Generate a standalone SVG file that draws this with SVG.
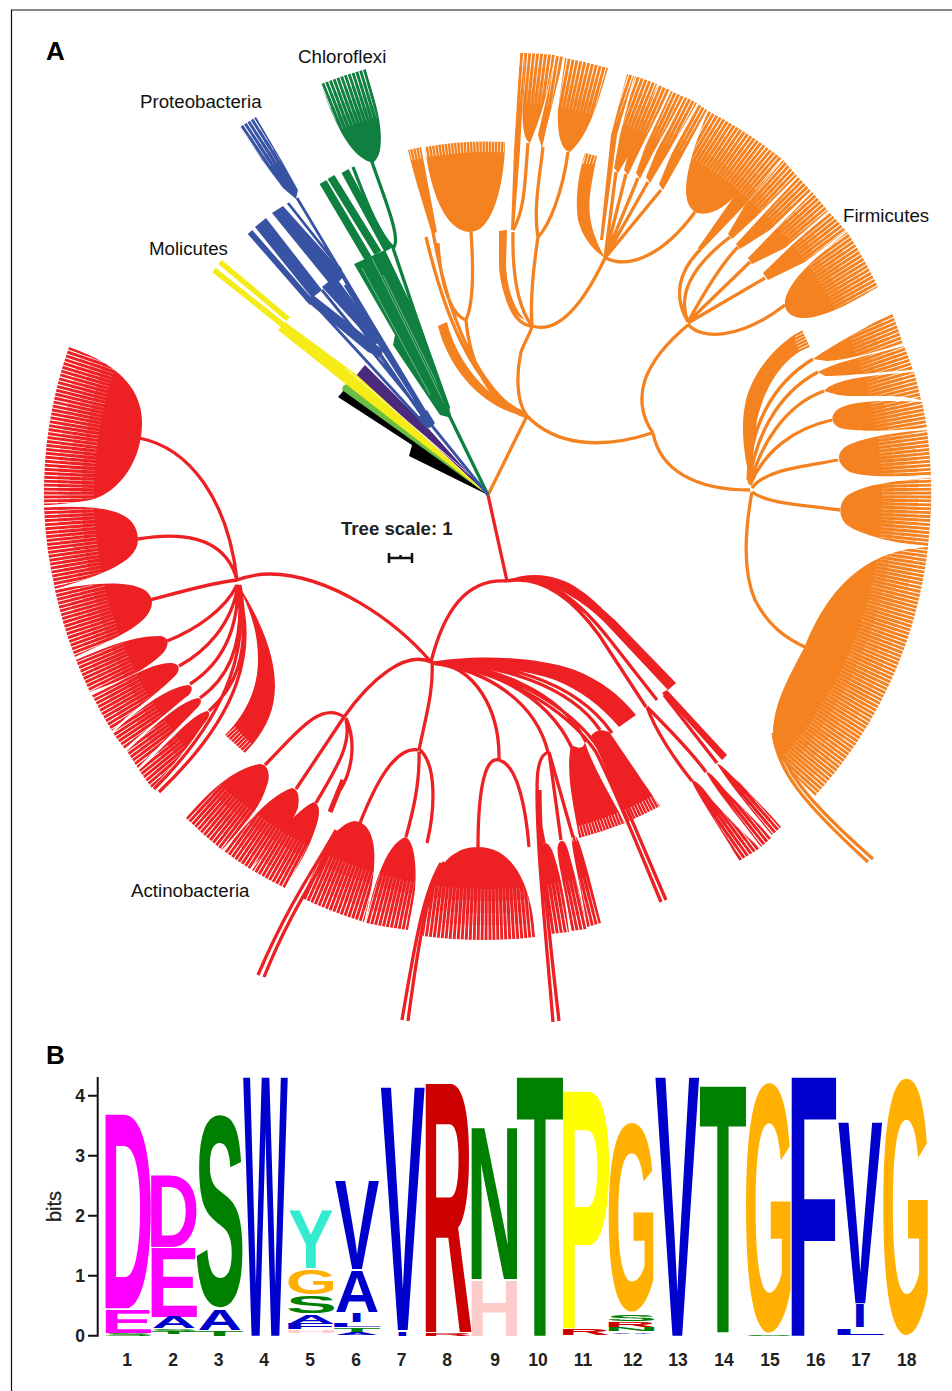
<svg xmlns="http://www.w3.org/2000/svg" width="952" height="1391" viewBox="0 0 952 1391">
<style>
.lbl{font-family:"Liberation Sans",Arial,sans-serif;font-size:18.700px;fill:#111}
.hd{font-family:"Liberation Sans",Arial,sans-serif;font-size:26px;font-weight:bold;fill:#000}
.ax{font-family:"Liberation Sans",Arial,sans-serif;font-size:17.500px;font-weight:bold;fill:#222}
.lg text{font-family:"Liberation Sans",Arial,sans-serif;font-size:100px;font-weight:bold}
.m{fill:#F0F}.g{fill:#008000}.b{fill:#00C}.o{fill:#FFB000}.c{fill:#CC0000}.p{fill:#FFCCCC}.y{fill:#FF0}.t{fill:#33EBCF}
.R{fill:#ED2024}.O{fill:#F58220}.Gr{fill:#0F8040}.B{fill:#3953A4}
.lR,.lO,.lG,.lB{fill:none;stroke-width:3.300}
.lR{stroke:#ED2024}.lO{stroke:#F58220}.lG{stroke:#0F8040}.lB{stroke:#3953A4;stroke-width:2.800}
.ring{fill:none;stroke:#fff}
</style>
<defs>
<clipPath id="short"><rect x="400" y="130" width="112" height="30"/><rect x="570" y="785" width="100" height="60"/><rect x="218" y="725" width="35" height="35"/><rect x="795" y="325" width="20" height="30"/><rect x="576" y="148" width="26" height="16"/></clipPath>
</defs>
<rect width="952" height="1391" fill="#fff"/>
<path d="M11.500,1391V10H952" fill="none" stroke="#111" stroke-width="1.200"/>

<g id="clade-other">
<path d="M338,397L345,389L488,495L409,456L412,445Z" fill="#000"/>
<path d="M343,386L350,382L488,495L342,390Z" fill="#6ABD45"/>
<path d="M354,378L365,365L428,428L488,495L425,436Z" fill="#4B2A7E"/>
</g>
<g id="clade-molicutes">
<path d="M278,330L285,322L357,375L488,495L347,385Z" fill="#F5EB17"/>
<path d="M214,270L283,325M220,262L288,319" fill="none" stroke="#F5EB17" stroke-width="5.500"/>
<path d="M345,368L470,475" fill="none" stroke="#fff" stroke-width=".8"/>
</g>
<g id="clade-proteobacteria" class="B">
<path d="M240,127L256,117L283,163L298,190L296,199L283,188L262,160Z"/>
<path d="M255,227L266,218L322,290L312,298Z"/>
<path d="M272,213L283,206L345,275L333,288Z"/>
<path d="M305,300L313,295L383,350L381,358L368,352Z"/>
<path d="M322,287L335,276L382,340L375,345Z"/>
<path d="M417,418L427,410L435,423L430,428Z"/>
<path d="M250,232L312,303" fill="none" stroke="#3953A4" stroke-width="6"/>
</g>
<g id="clade-chloroflexi" class="Gr">
<path d="M321,84A444,444 0 0 1 366,69C370,85 385,125 380,150C378,160 372,165 370,162C350,155 335,125 321,84Z"/>
<path d="M354,264L385,250L420,323L450,407L448,417L440,415L393,345L395,335Z"/>
<path d="M323,182L368,258M331,177L378,253M345,171L388,250" fill="none" stroke="#0F8040" stroke-width="8"/>
<path d="M445,405L372,258M445,400L383,275M430,395L362,268" fill="none" stroke="#fff" stroke-width=".7" opacity=".6"/>
</g>
<g id="clade-firmicutes-top" class="O">
<path d="M408,150L421,147L437,232L432,234C425,210 415,180 408,150Z"/>
<path d="M425,147A355,355 0 0 1 505,142C505,175 495,232 470,232C445,232 430,190 425,147Z"/>
<path d="M438,326L447,322C455,355 480,395 527,416C490,412 450,375 438,326Z"/>
<path d="M499,231L507,230L506,265C507,290 515,310 525,320C510,315 500,290 499,265Z"/>
<path d="M520,53L525,53L520,150L514,230L511,230L514,150Z"/>
<path d="M525,53A444,444 0 0 1 555,55C548,95 538,125 530,143C524,140 521,125 523,90Z"/>
<path d="M556,56L564,57L546,130L542,148L538,135Z"/>
<path d="M565,58A444,444 0 0 1 608,68C600,95 590,135 570,152C560,150 557,130 558,110Z"/>
<path d="M597,156L585,153C578,175 575,200 578,220C582,235 590,248 605,258C595,240 587,220 590,195C592,180 595,165 597,156Z"/>
<path d="M627,74A444,444 0 0 1 634,76L617,135L603,240L600,240L611,135Z"/>
<path d="M635,76A444,444 0 0 1 657,84L632,150L618,173L614,168L620,135Z"/>
<path d="M658,85A444,444 0 0 1 670,90L640,150L628,175L624,170L632,140Z"/>
<path d="M671,91A444,444 0 0 1 684,97L652,155L640,179L636,173L645,147Z"/>
<path d="M685,97A444,444 0 0 1 697,103L665,158L650,183L646,177L657,150Z"/>
<path d="M698,104A444,444 0 0 1 707,110L680,160L663,190L659,184L671,155Z"/>
<path d="M708,111A444,444 0 0 1 765,146C755,175 725,220 697,213C680,205 682,175 708,111Z"/>
<path d="M766,147A444,444 0 0 1 782,159L745,205L700,252L698,248L735,195Z"/>
<path d="M783,160A444,444 0 0 1 797,176L755,218L732,239L728,234L745,205Z"/>
<path d="M798,177A444,444 0 0 1 811,191L770,230L740,249L736,244L760,218Z"/>
<path d="M812,192A444,444 0 0 1 828,211L785,248L752,264L748,258L775,230Z"/>
<path d="M829,212A444,444 0 0 1 846,231L805,262L768,280L763,273L792,245Z"/>
<path d="M847,232A444,444 0 0 1 878,287C860,297 825,320 800,318C785,315 780,305 790,288C800,270 825,250 847,232Z"/>
</g>
<g id="clade-firmicutes-right" class="O">
<path d="M892,313A444,444 0 0 1 903,344C880,350 850,360 827,361L813,359C825,350 860,330 892,313Z"/>
<path d="M904,346A444,444 0 0 1 913,370C890,371 850,376 825,376L818,372C835,362 870,355 904,346Z"/>
<path d="M914,372A444,444 0 0 1 921,400C895,393 860,398 838,395L824,391C835,378 875,375 914,372Z"/>
<path d="M922,402A444,444 0 0 1 927,428C900,430 860,433 840,428C832,424 830,418 835,412C845,400 885,400 922,402Z"/>
<path d="M927,430A444,444 0 0 1 931,476C905,476 865,478 850,472C838,465 835,455 845,447C860,438 895,432 927,430Z"/>
<path d="M931,478A444,444 0 0 1 928,546C900,545 860,535 847,525C838,517 838,503 848,495C865,484 900,480 931,478Z"/>
<path d="M928,547A444,444 0 0 1 815,796C800,780 773,760 773,730C775,700 790,675 805,646C820,610 850,550 928,547Z"/>
<path d="M802,330L810,347C785,355 765,385 757,420C754,445 752,465 752,485C745,465 740,430 745,405C750,375 775,345 802,330Z"/>
</g>
<g id="clade-actinobacteria-left" class="R">
<path d="M44,505A444,444 0 0 1 69,347C100,358 143,378 142,425C141,465 115,497 85,501C70,503 55,505 44,505Z"/>
<path d="M55,589A444,444 0 0 1 44,507C90,506 138,505 138,540C138,565 90,578 55,589Z"/>
<path d="M75,657A444,444 0 0 1 55,590C85,584 150,575 152,602C152,625 110,640 75,657Z"/>
<path d="M90,692A444,444 0 0 1 76,660C100,650 130,636 160,636C172,637 168,650 160,656C135,678 112,683 90,692Z"/>
<path d="M112,731A444,444 0 0 1 92,695C120,683 150,663 170,663C182,663 180,672 174,677C150,700 130,712 112,731Z"/>
<path d="M125,749A444,444 0 0 1 113,733C135,712 165,688 188,685C195,686 191,695 186,697C165,715 145,730 125,749Z"/>
<path d="M138,768A444,444 0 0 1 127,751C150,730 178,702 198,698C204,699 200,706 195,710C178,728 155,750 138,768Z"/>
<path d="M152,788A444,444 0 0 1 139,770C160,752 190,715 207,711C212,712 208,720 203,725C190,745 170,770 152,788Z"/>
<path d="M237,583C255,610 275,650 275,685C275,715 262,735 245,753L225,735C245,715 258,690 258,660C258,630 250,610 237,583Z"/>
</g>
<g id="clade-actinobacteria-bottom" class="R">
<path d="M222,850A444,444 0 0 1 186,818C210,790 235,768 260,764C270,765 270,778 267,785C260,810 240,830 222,850Z"/>
<path d="M250,869A444,444 0 0 1 224,851C245,825 270,795 292,788C300,790 299,800 298,808C290,830 268,850 250,869Z"/>
<path d="M285,888A444,444 0 0 1 252,870C270,845 295,810 314,802C321,805 319,815 318,820C310,850 295,870 285,888Z"/>
<path d="M364,922A444,444 0 0 1 302,898C315,870 330,825 354,821C372,822 376,845 374,868C372,890 368,905 364,922Z"/>
<path d="M408,930A444,444 0 0 1 366,923C372,890 385,845 405,837C415,840 417,870 415,890C413,905 410,918 408,930Z"/>
<path d="M535,937A444,444 0 0 1 423,936C424,900 435,847 478,847C520,847 533,900 535,937Z"/>
<path d="M569,932A444,444 0 0 1 550,934C545,900 535,860 540,848C544,840 548,842 552,850C560,870 566,905 569,932Z"/>
<path d="M587,929A444,444 0 0 1 571,931C568,900 555,855 558,845C561,838 565,840 568,850C575,875 583,905 587,929Z"/>
<path d="M601,923A444,444 0 0 1 587,927C582,890 570,845 572,837C574,833 577,836 580,845C588,870 595,900 601,923Z"/>
<path d="M625,823A355,355 0 0 1 579,838C575,810 565,775 571,745C578,748 583,750 585,742C592,765 610,795 625,823Z"/>
<path d="M660,806A355,355 0 0 1 627,822C618,800 605,765 591,736C597,728 605,730 610,733C625,755 645,785 660,806Z"/>
<path d="M431,662C470,655 530,655 575,670C600,680 620,695 636,715L619,727C600,705 580,690 555,680C520,668 470,665 431,665Z"/>
<path d="M507,581C530,570 560,575 580,590C595,600 605,612 615,620L676,683L668,690L607,625C590,607 560,585 530,580Z"/>
<path d="M662,693L667,690L727,755L722,760Z"/>
<path d="M760,848A444,444 0 0 1 739,861C725,835 700,800 691,780C697,780 705,790 712,800C730,820 745,835 760,848Z"/>
<path d="M771,838A444,444 0 0 1 761,847C745,825 715,790 706,772C712,772 720,785 730,795C745,810 760,825 771,838Z"/>
<path d="M781,827A444,444 0 0 1 772,835C755,815 730,785 717,764C722,764 730,775 740,783C755,800 770,813 781,827Z"/>
</g>
<g id="tip-gaps">
<circle class="ring" cx="488" cy="495" r="438" pathLength="700" stroke-width="16" stroke-dasharray=".27 .73" stroke-dashoffset=".135"/>
<circle class="ring" cx="488" cy="495" r="424" pathLength="700" stroke-width="12" stroke-dasharray=".2 .8" stroke-dashoffset=".1"/>
<circle class="ring" cx="488" cy="495" r="412" pathLength="700" stroke-width="12" stroke-dasharray=".14 .86" stroke-dashoffset=".07"/>
<circle class="ring" cx="488" cy="495" r="400" pathLength="700" stroke-width="12" stroke-dasharray=".08 .92" stroke-dashoffset=".04" opacity=".8"/>
<circle class="ring" cx="488" cy="495" r="350" pathLength="700" stroke-width="14" stroke-dasharray=".22 .78" clip-path="url(#short)"/>
</g>
<g id="connectors">
<g class="lR">
<path d="M488,495L507,581M507,581C470,578 445,605 431,662M431,662C395,620 330,575 270,574C255,574 245,577 237,580C215,582 180,592 150,600"/>
<path d="M139,438C190,448 228,500 237,580M138,539C180,532 225,535 237,580M167,641C195,630 225,610 237,585M179,666C205,652 232,625 238,585M190,684C215,668 238,640 238,585M200,698C225,680 245,650 239,585M209,711C232,690 252,660 240,585M237,585C258,650 240,715 159,792M236,585C250,640 233,710 154,789"/>
<path d="M432,662C434,690 425,720 419,750M419,750C395,745 375,785 360,823M419,752C420,785 412,815 406,837M420,750C437,765 435,810 427,843"/>
<path d="M431,662C405,650 370,680 344,717M344,717C320,700 295,735 265,765M344,717L296,789M346,720C352,745 335,770 316,803M346,718C358,745 350,775 340,790"/>
<path d="M433,663C475,665 500,710 499,760M499,760C483,755 478,800 478,847M499,760C518,765 526,810 529,847"/>
<path d="M433,663C485,670 535,700 548,752M549,752C533,755 535,800 544,843M537,790C537,850 545,925 553,1022M540,790C540,850 548,925 559,1021M549,752L561,840M549,752L573,837"/>
<path d="M336,830C320,860 290,900 258,975M340,830C325,865 295,900 264,977M441,863C425,890 417,930 402,1020M444,862C428,890 420,930 408,1021"/>
<path d="M431,663C480,665 545,690 572,748M431,663C490,664 560,690 586,742M431,663C495,662 570,685 600,730M431,663C500,660 575,680 612,733M431,663C500,665 570,705 600,750C620,790 640,840 666,900M431,663C498,668 566,708 596,752C616,792 636,842 661,902"/>
<path d="M507,581C540,572 575,595 610,640L657,700M507,581C540,575 570,595 599,635L646,707M647,707C655,730 675,760 692,781M647,707C665,725 690,750 706,772M664,695L717,763"/>
<path d="M343,780L330,812" stroke-width="5"/>
</g>
<g class="lO">
<path d="M488,495L527,416M527,416C555,445 600,450 652,433M653,433C640,415 640,395 645,380C652,360 670,340 688,325M653,433C660,470 695,490 750,490M527,416C515,400 517,370 521,352C525,340 530,335 532,326"/>
<path d="M527,417C490,405 470,365 466,320M466,320C475,300 473,260 471,232M466,320C450,315 440,280 438,243M526,414C480,395 448,330 426,237M527,416C490,400 452,340 433,232"/>
<path d="M532,326C515,325 503,300 502,265M532,326C520,310 512,280 513,232M513,230C525,210 525,180 528,143M532,326C530,300 533,270 538,237M538,237C533,210 540,175 543,147M538,237C550,225 563,190 568,152M532,326C560,335 585,300 605,258"/>
<path d="M605,258L616,172M605,258L626,174M605,258L638,178M605,258L648,182M605,258L661,190M606,258C625,268 660,260 695,212"/>
<path d="M688,324C700,340 740,340 785,305M688,323L765,278M688,322L750,262M688,322C700,300 720,265 738,247M688,322C675,290 700,260 730,237M688,322C672,295 680,270 700,250"/>
<path d="M752,492C770,505 810,505 840,510M752,488C765,470 800,467 838,460M750,485C765,450 795,428 832,420M750,485C760,445 785,405 824,391M749,483C755,440 775,395 818,372M748,480C750,430 770,385 813,359"/>
<path d="M752,492C745,530 742,570 755,600C768,625 785,638 805,647"/>
<path d="M773,733C778,770 800,800 868,862M776,733C782,768 804,798 873,859"/>
</g>
<g class="lG">
<path d="M488,495L449,415M450,417L393,248M353,167C362,190 378,235 394,248M372,162C385,200 402,240 393,248"/>
</g>
<g class="lB">
<path d="M488,495L433,427M433,425L297,198M288,203L341,270M433,427L340,272M381,355L430,427M378,342L427,418M345,285L425,415M315,305L428,428M333,288L430,427M322,290L428,420"/>
</g>
</g>
<g id="labels">
<text class="lbl" x="298" y="63">Chloroflexi</text>
<text class="lbl" x="140" y="108">Proteobacteria</text>
<text class="lbl" x="149" y="255">Molicutes</text>
<text class="lbl" x="843" y="222">Firmicutes</text>
<text class="lbl" x="131" y="897">Actinobacteria</text>
<text class="hd" x="46" y="60">A</text>
<text class="hd" x="46" y="1064">B</text>
</g>
<g id="tree-scale">
<text x="341" y="535" font-family="'Liberation Sans',Arial,sans-serif" font-size="18.600" font-weight="bold" fill="#222">Tree scale: 1</text>
<path d="M389,558H412M389,553V563M412,553V563M400.500,555V558" fill="none" stroke="#111" stroke-width="2.500"/>
</g>
<g id="axis">
<path d="M97.700,1077V1336.700M88,1095.700H98M88,1155.700H98M88,1215.700H98M88,1275.700H98M88,1335.700H98" fill="none" stroke="#111" stroke-width="2"/>
<text class="ax" x="85" y="1102" text-anchor="end">4</text>
<text class="ax" x="85" y="1162" text-anchor="end">3</text>
<text class="ax" x="85" y="1222" text-anchor="end">2</text>
<text class="ax" x="85" y="1282" text-anchor="end">1</text>
<text class="ax" x="85" y="1342" text-anchor="end">0</text>
<text transform="translate(61 1222) rotate(-90)" font-family="'Liberation Sans',Arial,sans-serif" font-size="20" fill="#222" stroke="#222" stroke-width=".3">bits</text>
<g text-anchor="middle">
<text class="ax" x="127" y="1366">1</text><text class="ax" x="173" y="1366">2</text><text class="ax" x="218.500" y="1366">3</text><text class="ax" x="264" y="1366">4</text><text class="ax" x="310" y="1366">5</text><text class="ax" x="356" y="1366">6</text><text class="ax" x="401.500" y="1366">7</text><text class="ax" x="447" y="1366">8</text><text class="ax" x="495" y="1366">9</text><text class="ax" x="538" y="1366">10</text><text class="ax" x="583" y="1366">11</text><text class="ax" x="632.700" y="1366">12</text><text class="ax" x="678" y="1366">13</text><text class="ax" x="724" y="1366">14</text><text class="ax" x="770" y="1366">15</text><text class="ax" x="815.700" y="1366">16</text><text class="ax" x="861" y="1366">17</text><text class="ax" x="906.700" y="1366">18</text>
</g>
</g>
<g id="logo" class="lg">
<text class="m" transform="matrix(.737 0 0 2.814 100.600 1308.300)">D</text>
<text class="m" transform="matrix(.806 0 0 .330 100.600 1332.700)">E</text>
<text class="g" transform="matrix(.763 0 0 .034 103 1335.700)">S</text>
<text class="m" transform="matrix(.737 0 0 1.032 146.350 1246.700)">D</text>
<text class="m" transform="matrix(.806 0 0 1.003 146.350 1316.700)">E</text>
<text class="b" transform="matrix(.616 0 0 .160 151.750 1328.300)">A</text>
<text class="g" transform="matrix(.763 0 0 .035 148.750 1331.700)">S</text>
<text class="g" transform="matrix(.782 0 0 .029 150 1334.300)">T</text>
<text class="g" transform="matrix(.763 0 0 2.710 194.500 1304.500)">S</text>
<text class="b" transform="matrix(.616 0 0 .301 197.500 1330)">A</text>
<text class="g" transform="matrix(.782 0 0 .064 195.800 1335.700)">T</text>
<text class="b" transform="matrix(.473 0 0 3.750 243.150 1335.700)">W</text>
<text class="t" transform="matrix(.678 0 0 .837 288.300 1268.300)">Y</text>
<text class="o" transform="matrix(.660 0 0 .351 285.800 1293.600)">G</text>
<text class="g" transform="matrix(.763 0 0 .247 286 1313)">S</text>
<text class="b" transform="matrix(.616 0 0 .112 289 1322.700)">A</text>
<text class="b" transform="matrix(.875 0 0 .087 282.600 1329.300)">F</text>
<text class="p" transform="matrix(.771 0 0 .038 283.500 1333.300)">H</text>
<text class="b" transform="matrix(.668 0 0 1.283 334.750 1269.300)">V</text>
<text class="b" transform="matrix(.616 0 0 .596 334.750 1311.700)">A</text>
<text class="b" transform="matrix(.530 0 0 .122 349.350 1321.700)">I</text>
<text class="b" transform="matrix(.897 0 0 .049 328.250 1326.700)">L</text>
<text class="g" transform="matrix(.782 0 0 .049 333.050 1331.700)">T</text>
<text class="b" transform="matrix(.616 0 0 .033 334.750 1335)">A</text>
<text class="b" transform="matrix(.668 0 0 3.522 380.500 1330)">V</text>
<text class="b" transform="matrix(.530 0 0 .058 395.100 1335.700)">I</text>
<text class="c" transform="matrix(.720 0 0 3.605 420.950 1332)">R</text>
<text class="c" transform="matrix(.720 0 0 .035 420.950 1335.700)">R</text>
<text class="g" transform="matrix(.771 0 0 2.190 466.500 1279)">N</text>
<text class="p" transform="matrix(.771 0 0 .800 466.500 1335.700)">H</text>
<text class="g" transform="matrix(.782 0 0 3.750 516.050 1335.700)">T</text>
<text class="y" transform="matrix(.815 0 0 3.439 557.500 1328.300)">P</text>
<text class="c" transform="matrix(.720 0 0 .083 558.200 1335)">R</text>
<text class="o" transform="matrix(.660 0 0 2.663 606 1309)">G</text>
<text class="g" transform="matrix(.763 0 0 .094 606.250 1320.600)">S</text>
<text class="c" transform="matrix(.720 0 0 .073 604 1326.700)">R</text>
<text class="g" transform="matrix(.771 0 0 .054 603.750 1331)">N</text>
<text class="b" transform="matrix(.616 0 0 .025 609.250 1333.700)">A</text>
<text class="b" transform="matrix(.668 0 0 3.750 655 1335.700)">V</text>
<text class="g" transform="matrix(.782 0 0 3.570 699.050 1332.300)">T</text>
<text class="o" transform="matrix(.660 0 0 3.520 743.300 1329.100)">G</text>
<text class="g" transform="matrix(.763 0 0 .020 743.500 1335.700)">S</text>
<text class="b" transform="matrix(.875 0 0 3.750 785.850 1335.700)">F</text>
<text class="b" transform="matrix(.668 0 0 2.625 838 1303.300)">V</text>
<text class="b" transform="matrix(.530 0 0 .324 852.600 1327.300)">I</text>
<text class="b" transform="matrix(.897 0 0 .097 831.500 1335)">L</text>
<text class="o" transform="matrix(.660 0 0 3.620 880.550 1331.400)">G</text>
</g>
</svg>
